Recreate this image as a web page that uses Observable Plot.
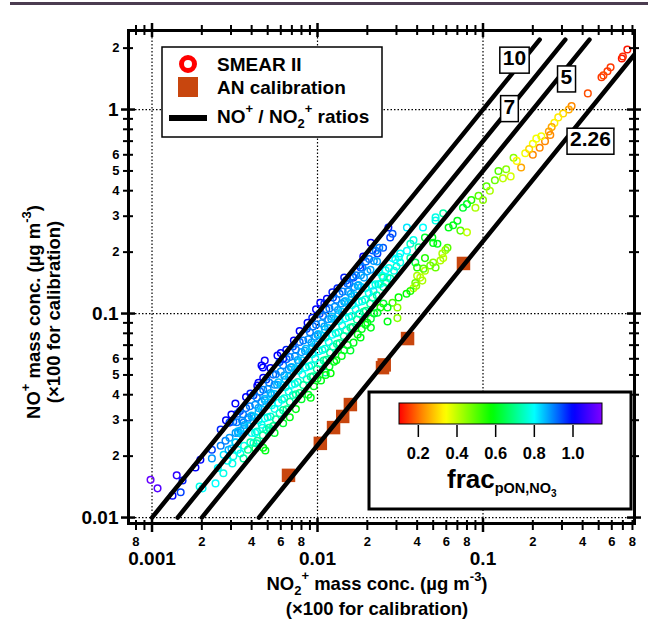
<!DOCTYPE html>
<html><head><meta charset="utf-8">
<script src="https://cdn.jsdelivr.net/npm/d3@7"></script>
<script src="https://cdn.jsdelivr.net/npm/@observablehq/plot@0.6"></script>
<style>
html,body{margin:0;padding:0;background:#fff;overflow:hidden;}
#wrap{position:relative;width:648px;height:621px;}
#topbar{position:absolute;left:10px;top:2px;width:638px;height:3px;background:#4b3c50;z-index:2;}
#wrap svg{font-family:"Liberation Sans",Arial,sans-serif;font-weight:bold;}
</style></head><body><div id="wrap"><div id="topbar"></div></div>
<script>
// ---------- SMEAR II points: NO2+ (x), NO+ (y), frac_pON,NO3 (colour) ----------
const smearX = [
  0.00098, 0.00108, 0.00133, 0.00141, 0.00153, 0.00149, 0.00183, 0.00196, 0.00202, 0.00242, 0.00194,
  0.00260, 0.00278, 0.00294, 0.00319, 0.00302, 0.00271, 0.00286, 0.00306, 0.00342, 0.00357, 0.00393, 0.00421, 0.00470,
  0.00484, 0.00433, 0.00342, 0.00357, 0.00382, 0.00328, 0.00319, 0.00302, 0.00294, 0.00393, 0.00433, 0.00517, 0.00465,
  0.00440, 0.00470, 0.00468, 0.00480, 0.00459, 0.00573, 0.00648, 0.00720, 0.00871, 0.00930, 0.0104, 0.0114,
  0.0123, 0.0132, 0.0189, 0.0210, 0.0230, 0.0249, 0.0268, 0.0275, 0.0284, 0.0182, 0.0165, 0.0152,
  0.0031, 0.0032, 0.0034, 0.0035, 0.0033, 0.0037, 0.0038, 0.0036, 0.0041, 0.0042, 0.0040,
  0.0045, 0.0046, 0.0044, 0.0049, 0.0050, 0.0048, 0.0054, 0.0055, 0.0053, 0.0059, 0.0060, 0.0058,
  0.0065, 0.0067, 0.0064, 0.0071, 0.0073, 0.0070, 0.0078, 0.0080, 0.0077, 0.0086, 0.0088, 0.0085,
  0.0094, 0.0097, 0.0093, 0.0103, 0.0106, 0.0101, 0.0113, 0.0116, 0.0111, 0.0124, 0.0127, 0.0122,
  0.0136, 0.0140, 0.0134, 0.0149, 0.0153, 0.0147, 0.0163, 0.0167, 0.0161, 0.0179, 0.0183, 0.0177,
  0.0196, 0.0200, 0.0215, 0.0219, 0.0236,
  0.0040, 0.0041, 0.0044, 0.0043, 0.0048, 0.0049, 0.0053, 0.0052, 0.0054, 0.0058, 0.0059,
  0.0064, 0.0063, 0.0065, 0.0070, 0.0071, 0.0077, 0.0076, 0.0078, 0.0085, 0.0086, 0.0093, 0.0092,
  0.0094, 0.0102, 0.0103, 0.0112, 0.0111, 0.0113, 0.0123, 0.0124, 0.0135, 0.0134, 0.0136, 0.0148,
  0.0149, 0.0162, 0.0161, 0.0163, 0.0178, 0.0179, 0.0195, 0.0194, 0.0196, 0.0214, 0.0215, 0.0235,
  0.0234, 0.0258, 0.0259, 0.0283, 0.0310, 0.0300,
  0.0347, 0.0434, 0.0517, 0.0517, 0.0575, 0.0380, 0.0408, 0.0347, 0.0316, 0.0364,
  0.0390, 0.0316, 0.0295, 0.0290, 0.0265, 0.0240, 0.0218, 0.0364, 0.0249, 0.0530,
  0.0446, 0.0494, 0.0500, 0.0620, 0.0660, 0.0700, 0.0757, 0.0800, 0.0400, 0.0446,
  0.0730, 0.0800, 0.0610, 0.0593, 0.0568, 0.0575, 0.0553, 0.0517, 0.0500, 0.0480, 0.0446, 0.0437,
  0.0418, 0.0430, 0.0400, 0.0390, 0.0380, 0.0395, 0.0364, 0.0345, 0.0309, 0.0284, 0.0304, 0.0304,
  0.0265, 0.0250, 0.0240, 0.0265, 0.0230, 0.0210, 0.0210, 0.0182, 0.0200, 0.0158, 0.0112, 0.0091,
  0.0055, 0.0068, 0.0080, 0.0095, 0.0105, 0.0118, 0.0130, 0.0145, 0.0165, 0.0185, 0.0120, 0.0140,
  0.0850, 0.0940, 0.1000, 0.0900, 0.1050, 0.1100, 0.1180, 0.1240, 0.1380, 0.1530, 0.1470, 0.1320,
  0.745, 0.690, 0.700, 0.590, 0.565, 0.534, 0.520, 0.430, 0.343, 0.330, 0.305, 0.285, 0.270,
  0.260, 0.250, 0.255, 0.237, 0.225, 0.220, 0.210, 0.200, 0.180, 0.200, 0.170, 0.190, 0.160
];
const smearY = [
  0.0153, 0.0139, 0.0128, 0.0161, 0.0152, 0.0133, 0.0176, 0.0192, 0.0139, 0.0147, 0.0142,
  0.0225, 0.0238, 0.0246, 0.0233, 0.0218, 0.0203, 0.0190, 0.0184, 0.0206, 0.0195, 0.0234, 0.0218, 0.0220,
  0.0213, 0.0238, 0.0267, 0.0292, 0.0309, 0.0323, 0.0362, 0.0320, 0.0292, 0.0405, 0.0443, 0.0267, 0.0275,
  0.0458, 0.0484, 0.0544, 0.0588, 0.0556, 0.0623, 0.0665, 0.0737, 0.0901, 0.0953, 0.113, 0.118,
  0.127, 0.133, 0.190, 0.222, 0.197, 0.210, 0.264, 0.236, 0.246, 0.168, 0.150, 0.140,
  0.0295, 0.0260, 0.0333, 0.0299, 0.0265, 0.0344, 0.0303, 0.0274, 0.0398, 0.0357, 0.0316,
  0.0414, 0.0369, 0.0329, 0.0475, 0.0426, 0.0382, 0.0502, 0.0448, 0.0400, 0.0578, 0.0519, 0.0460,
  0.0598, 0.0533, 0.0475, 0.0689, 0.0618, 0.0547, 0.0725, 0.0647, 0.0577, 0.0843, 0.0748, 0.0671,
  0.0865, 0.0771, 0.0686, 0.0999, 0.0896, 0.0793, 0.105, 0.0938, 0.0836, 0.120, 0.108, 0.0967,
  0.125, 0.112, 0.0993, 0.145, 0.128, 0.115, 0.152, 0.135, 0.121, 0.172, 0.154, 0.138,
  0.180, 0.161, 0.204, 0.181, 0.210,
  0.0260, 0.0232, 0.0299, 0.0264, 0.0307, 0.0269, 0.0355, 0.0313, 0.0281, 0.0365, 0.0325,
  0.0435, 0.0384, 0.0339, 0.0448, 0.0399, 0.0524, 0.0462, 0.0408, 0.0544, 0.0476, 0.0632, 0.0558,
  0.0493, 0.0653, 0.0571, 0.0762, 0.0672, 0.0594, 0.0787, 0.0689, 0.0918, 0.0810, 0.0716, 0.0947,
  0.0829, 0.110, 0.0972, 0.0859, 0.114, 0.0997, 0.133, 0.117, 0.103, 0.137, 0.120, 0.160,
  0.139, 0.163, 0.142, 0.187, 0.189, 0.170,
  0.264, 0.264, 0.296, 0.286, 0.310, 0.229, 0.211, 0.203, 0.197, 0.187,
  0.178, 0.178, 0.184, 0.162, 0.150, 0.140, 0.129, 0.220, 0.150, 0.220,
  0.236, 0.236, 0.222, 0.264, 0.271, 0.285, 0.330, 0.344, 0.168, 0.187,
  0.255, 0.250, 0.210, 0.205, 0.197, 0.187, 0.182, 0.168, 0.178, 0.172, 0.162, 0.166,
  0.150, 0.145, 0.153, 0.141, 0.133, 0.137, 0.129, 0.125, 0.120, 0.113, 0.107, 0.095,
  0.107, 0.112, 0.107, 0.0914, 0.101, 0.0944, 0.0853, 0.0763, 0.0900, 0.0659, 0.0514, 0.0387,
  0.0260, 0.0310, 0.0380, 0.0440, 0.0470, 0.0550, 0.0590, 0.0660, 0.0720, 0.0840, 0.0510, 0.0620,
  0.360, 0.378, 0.360, 0.330, 0.420, 0.400, 0.450, 0.500, 0.510, 0.580, 0.470, 0.460,
  1.97, 1.78, 1.82, 1.61, 1.54, 1.47, 1.44, 1.20, 1.04, 1.00, 0.956, 0.915, 0.860,
  0.820, 0.780, 0.750, 0.700, 0.740, 0.650, 0.720, 0.680, 0.610, 0.600, 0.520, 0.640, 0.560
];
const smearFrac = [
  1.12, 1.10, 1.0, 1.05, 0.98, 0.95, 1.0, 1.0, 0.8, 0.8, 0.78,
  0.9, 0.9, 0.88, 0.82, 0.85, 0.82, 0.8, 0.78, 0.78, 0.72, 0.72, 0.65, 0.6,
  0.6, 0.72, 0.88, 0.9, 0.9, 0.92, 1.0, 1.0, 0.95, 0.98, 1.0, 0.75, 0.78,
  1.0, 1.0, 1.0, 1.02, 1.0, 1.0, 0.98, 1.0, 1.0, 0.98, 1.0, 1.0,
  0.98, 0.97, 1.0, 1.0, 0.95, 0.93, 0.98, 0.95, 0.93, 0.95, 0.95, 0.93,
  0.93, 0.88, 0.95, 0.88, 0.85, 0.92, 0.88, 0.85, 0.95, 0.88, 0.85,
  0.92, 0.88, 0.85, 0.95, 0.88, 0.85, 0.92, 0.88, 0.85, 0.95, 0.88, 0.85,
  0.92, 0.88, 0.85, 0.95, 0.88, 0.85, 0.92, 0.88, 0.85, 0.95, 0.88, 0.85,
  0.92, 0.88, 0.85, 0.95, 0.88, 0.85, 0.92, 0.88, 0.85, 0.95, 0.88, 0.85,
  0.92, 0.88, 0.85, 0.95, 0.88, 0.85, 0.92, 0.88, 0.85, 0.95, 0.88, 0.85,
  0.92, 0.88, 0.95, 0.88, 0.9,
  0.8, 0.76, 0.8, 0.76, 0.8, 0.74, 0.8, 0.76, 0.7, 0.8, 0.74,
  0.8, 0.76, 0.7, 0.8, 0.74, 0.8, 0.76, 0.7, 0.8, 0.74, 0.8, 0.76,
  0.7, 0.8, 0.74, 0.8, 0.76, 0.7, 0.8, 0.74, 0.8, 0.76, 0.7, 0.8,
  0.74, 0.8, 0.76, 0.7, 0.8, 0.74, 0.8, 0.76, 0.7, 0.8, 0.74, 0.8,
  0.76, 0.8, 0.72, 0.8, 0.78, 0.76,
  0.82, 0.8, 0.78, 0.78, 0.72, 0.78, 0.7, 0.8, 0.8, 0.72,
  0.65, 0.78, 0.8, 0.78, 0.8, 0.8, 0.82, 0.75, 0.7, 0.6,
  0.62, 0.6, 0.6, 0.6, 0.6, 0.6, 0.62, 0.62, 0.55, 0.55,
  0.5, 0.4, 0.5, 0.45, 0.42, 0.4, 0.42, 0.48, 0.45, 0.48, 0.42, 0.5,
  0.4, 0.42, 0.42, 0.48, 0.4, 0.45, 0.55, 0.58, 0.58, 0.52, 0.45, 0.45,
  0.6, 0.62, 0.55, 0.6, 0.62, 0.62, 0.6, 0.6, 0.6, 0.62, 0.72, 0.6,
  0.62, 0.6, 0.62, 0.6, 0.6, 0.62, 0.6, 0.62, 0.6, 0.6, 0.58, 0.6,
  0.55, 0.5, 0.45, 0.42, 0.5, 0.42, 0.48, 0.5, 0.45, 0.45, 0.38, 0.4,
  0.12, 0.12, 0.14, 0.15, 0.15, 0.17, 0.15, 0.17, 0.22, 0.25, 0.3, 0.32, 0.33,
  0.25, 0.25, 0.22, 0.22, 0.35, 0.22, 0.35, 0.35, 0.35, 0.22, 0.25, 0.3, 0.33
];
// dense core of the SMEAR II cloud (between the 10 and 5 ratio lines) and extra edge points
const coreX = [
  0.00325, 0.00331, 0.00320, 0.00355, 0.00362, 0.00349, 0.0039, 0.0040, 0.00383, 0.0043, 0.0044, 0.00422,
  0.0047, 0.0048, 0.00462, 0.0051, 0.0052, 0.0050, 0.0056, 0.0057, 0.0055, 0.0062, 0.0063, 0.0061,
  0.0068, 0.0069, 0.0067, 0.0074, 0.0076, 0.0073, 0.0082, 0.0084, 0.0081, 0.0090, 0.0092, 0.0089,
  0.0098, 0.0100, 0.0097, 0.0108, 0.0110, 0.0106, 0.0118, 0.0121, 0.0116, 0.0130, 0.0133, 0.0128,
  0.0142, 0.0145, 0.0140, 0.0156, 0.0159, 0.0153, 0.0171, 0.0175, 0.0168, 0.0187, 0.0191, 0.0184,
  0.0205, 0.0209, 0.0225, 0.0229,
  0.0042, 0.00428, 0.0046, 0.00468, 0.0050, 0.0051, 0.0055, 0.0056, 0.0061, 0.0062, 0.0067, 0.0068,
  0.0073, 0.0074, 0.0081, 0.0082, 0.0089, 0.0091, 0.0097, 0.0099, 0.0107, 0.0109, 0.0117, 0.0119,
  0.0129, 0.0131, 0.0141, 0.0144, 0.0155, 0.0158, 0.0170, 0.0173, 0.0186, 0.0190, 0.0204, 0.0208,
  0.0224, 0.0228, 0.0246, 0.0250, 0.0270, 0.0275,
  0.0052, 0.0060, 0.0078, 0.0098, 0.0062, 0.0110, 0.0145, 0.0037, 0.0026, 0.0023, 0.0028,
  0.0025, 0.0027, 0.0023, 0.0029, 0.0033, 0.0036, 0.0038, 0.0031,
  0.0062, 0.0074, 0.0088, 0.0100, 0.0112, 0.0126, 0.0152, 0.0175, 0.0195, 0.0220
];
const coreY = [
  0.0293, 0.0260, 0.0234, 0.0320, 0.0284, 0.0256, 0.0351, 0.0312, 0.0281, 0.0387, 0.0344, 0.0310,
  0.0423, 0.0376, 0.0338, 0.0459, 0.0408, 0.0367, 0.0504, 0.0448, 0.0403, 0.0558, 0.0496, 0.0446,
  0.0612, 0.0544, 0.0490, 0.0666, 0.0592, 0.0533, 0.0738, 0.0656, 0.0590, 0.0810, 0.0720, 0.0648,
  0.0882, 0.0784, 0.0706, 0.0972, 0.0864, 0.0778, 0.106, 0.0944, 0.0850, 0.117, 0.104, 0.0936,
  0.128, 0.114, 0.102, 0.140, 0.125, 0.112, 0.154, 0.137, 0.123, 0.168, 0.150, 0.135,
  0.185, 0.164, 0.203, 0.180,
  0.0260, 0.0231, 0.0285, 0.0253, 0.0310, 0.0275, 0.0341, 0.0303, 0.0378, 0.0336, 0.0415, 0.0369,
  0.0453, 0.0402, 0.0502, 0.0446, 0.0552, 0.0490, 0.0601, 0.0534, 0.0663, 0.0589, 0.0725, 0.0644,
  0.0800, 0.0710, 0.0874, 0.0776, 0.0961, 0.0853, 0.105, 0.0935, 0.115, 0.102, 0.126, 0.112,
  0.139, 0.123, 0.153, 0.135, 0.167, 0.149,
  0.0540, 0.0640, 0.0820, 0.105, 0.0600, 0.112, 0.150, 0.0390, 0.0270, 0.0215, 0.0300,
  0.0175, 0.0165, 0.0195, 0.0215, 0.0215, 0.0225, 0.0215, 0.0200,
  0.0290, 0.0340, 0.0400, 0.0480, 0.0500, 0.0580, 0.0700, 0.0790, 0.0880, 0.100
];
const coreFrac = [
  0.9, 0.87, 0.84, 0.9, 0.87, 0.84, 0.9, 0.87, 0.84, 0.9, 0.87, 0.84,
  0.9, 0.87, 0.84, 0.9, 0.87, 0.84, 0.9, 0.87, 0.84, 0.9, 0.87, 0.84,
  0.9, 0.87, 0.84, 0.9, 0.87, 0.84, 0.9, 0.87, 0.84, 0.9, 0.87, 0.84,
  0.9, 0.87, 0.84, 0.9, 0.87, 0.84, 0.9, 0.87, 0.84, 0.9, 0.87, 0.84,
  0.9, 0.87, 0.84, 0.9, 0.87, 0.84, 0.9, 0.87, 0.84, 0.9, 0.87, 0.84,
  0.9, 0.87, 0.9, 0.87,
  0.78, 0.72, 0.78, 0.72, 0.78, 0.72, 0.78, 0.72, 0.78, 0.72, 0.78, 0.72,
  0.78, 0.72, 0.78, 0.72, 0.78, 0.72, 0.78, 0.72, 0.78, 0.72, 0.78, 0.72,
  0.78, 0.72, 0.78, 0.72, 0.78, 0.72, 0.78, 0.72, 0.78, 0.72, 0.78, 0.72,
  0.78, 0.72, 0.78, 0.72, 0.78, 0.72,
  1.0, 1.0, 1.0, 1.0, 0.98, 0.97, 0.98, 1.0, 0.97, 0.95, 1.0,
  0.8, 0.78, 0.88, 0.86, 0.8, 0.78, 0.7, 0.78,
  0.62, 0.6, 0.62, 0.62, 0.6, 0.6, 0.62, 0.6, 0.6, 0.62
];
// ---------- AN calibration points ----------
const calX = [0.00668, 0.0104, 0.0125, 0.0142, 0.0158, 0.0247, 0.0253, 0.0350, 0.0762];
const calY = [0.0161, 0.0231, 0.0276, 0.0313, 0.0358, 0.0543, 0.0560, 0.0754, 0.176];
// ---------- NO+/NO2+ ratio lines ----------
const ratioValues = [10, 7, 5, 2.26];
const ratioLineYRange = [0.01, 2.2];
const ratioLabelText = ["10", "7", "5", "2.26"];
const ratioLabelX = [0.155, 0.1445, 0.319, 0.446];
const ratioLabelY = [1.78, 1.03, 1.44, 0.713];
// ---------- axes ----------
const xDomain = [0.000721, 0.823];
const yDomain = [0.00935, 2.44];
const xMajorTicks = [0.001, 0.01, 0.1];
const xMinorTicks = [0.0008, 0.0009, 0.002, 0.003, 0.004, 0.005, 0.006, 0.007, 0.008, 0.009,
  0.02, 0.03, 0.04, 0.05, 0.06, 0.07, 0.08, 0.09, 0.2, 0.3, 0.4, 0.5, 0.6, 0.7, 0.8];
const xMinorLabels = [0.0008, 0.002, 0.004, 0.006, 0.008, 0.02, 0.04, 0.06, 0.08, 0.2, 0.4, 0.6, 0.8];
const yMajorTicks = [0.01, 0.1, 1];
const yMinorTicks = [0.02, 0.03, 0.04, 0.05, 0.06, 0.07, 0.08, 0.09,
  0.2, 0.3, 0.4, 0.5, 0.6, 0.7, 0.8, 0.9, 2];
const yMinorLabels = [0.02, 0.03, 0.04, 0.05, 0.06, 0.2, 0.3, 0.4, 0.5, 0.6, 2];
// ---------- colour scale ----------
const colorStops = [0.1, 0.22, 0.34, 0.58, 0.8, 1.0, 1.15];
const colorHexes = ["#ff0000", "#ff8800", "#ffff00", "#00ff00", "#00ffff", "#0000ff", "#8000ff"];
const colorTicks = [0.2, 0.4, 0.6, 0.8, 1.0];
const colorBarDomain = [0.1, 1.15];
const calColor = "#c8460e";

const W = 648, H = 621, mL = 128, mR = 14, mT = 30, mB = 98;
const innerW = W - mL - mR, innerH = H - mT - mB;

const smearData = smearX.map((x, i) => ({x, y: smearY[i], f: smearFrac[i]}))
  .concat(coreX.map((x, i) => ({x, y: coreY[i], f: coreFrac[i]})));
const calData = calX.map((x, i) => ({x, y: calY[i]}));
const ratioLineData = ratioValues.flatMap(r => ratioLineYRange.map(y => ({r, x: y / r, y})));
const ratioLabelData = ratioLabelText.map((t, i) => ({t, x: ratioLabelX[i], y: ratioLabelY[i]}));
const firstDigit = d => String(Math.round(d / Math.pow(10, Math.floor(Math.log10(d) + 1e-9))));
const colorOpts = {type: "linear", domain: colorStops, range: colorHexes, interpolate: "rgb", clamp: true};

const chart = Plot.plot({
  width: W, height: H, marginLeft: mL, marginRight: mR, marginTop: mT, marginBottom: mB,
  style: {fontFamily: "Liberation Sans, Arial, sans-serif", fontWeight: "bold", background: "white"},
  x: {type: "log", domain: xDomain, axis: null},
  y: {type: "log", domain: yDomain, axis: null},
  color: colorOpts,
  marks: [
    Plot.ruleX(xMajorTicks, {x: d => d, stroke: "black", strokeWidth: 1.2, strokeDasharray: "1.5,2"}),
    Plot.ruleY(yMajorTicks, {y: d => d, stroke: "black", strokeWidth: 1.2, strokeDasharray: "1.5,2"}),
    Plot.dot(smearData, {x: "x", y: "y", stroke: "f", r: 3.3, strokeWidth: 1.5, fill: "none"}),
    Plot.dot(calData, {x: "x", y: "y", symbol: "square", r: 7.6, fill: calColor}),
    Plot.line(ratioLineData, {x: "x", y: "y", z: "r", stroke: "black", strokeWidth: 4.5, clip: true}),
    Plot.text(ratioLabelData, {x: "x", y: "y", text: "t", fontSize: 21, fontWeight: "bold", fill: "black"}),
    Plot.frame({stroke: "black", strokeWidth: 3}),
    Plot.tickX(xMajorTicks, {x: d => d, insetTop: innerH - 5, insetBottom: -9, strokeWidth: 2.5}),
    Plot.tickX(xMinorTicks, {x: d => d, insetTop: innerH - 3, insetBottom: -7, strokeWidth: 2}),
    Plot.tickX(xMajorTicks, {x: d => d, insetTop: -7, insetBottom: innerH - 7, strokeWidth: 2.5}),
    Plot.tickX(xMinorTicks, {x: d => d, insetTop: -5, insetBottom: innerH - 5, strokeWidth: 2}),
    Plot.tickY(yMajorTicks, {y: d => d, insetLeft: -7, insetRight: innerW - 7, strokeWidth: 2.5}),
    Plot.tickY(yMinorTicks, {y: d => d, insetLeft: -5, insetRight: innerW - 5, strokeWidth: 2}),
    Plot.tickY(yMajorTicks, {y: d => d, insetLeft: innerW - 7, insetRight: -7, strokeWidth: 2.5}),
    Plot.tickY(yMinorTicks, {y: d => d, insetLeft: innerW - 5, insetRight: -5, strokeWidth: 2}),
    Plot.text(xMajorTicks, {x: d => d, text: d => String(d), frameAnchor: "bottom", lineAnchor: "top", dy: 28, fontSize: 19, fontWeight: "bold"}),
    Plot.text(xMinorLabels, {x: d => d, text: firstDigit, frameAnchor: "bottom", lineAnchor: "top", dy: 13, fontSize: 13, fontWeight: "bold"}),
    Plot.text(yMajorTicks, {y: d => d, text: d => String(d), frameAnchor: "left", textAnchor: "end", dx: -10, fontSize: 19, fontWeight: "bold"}),
    Plot.text(yMinorLabels, {y: d => d, text: firstDigit, frameAnchor: "left", textAnchor: "end", dx: -9, fontSize: 13, fontWeight: "bold"})
  ]
});
document.getElementById("wrap").appendChild(chart);
const svg = d3.select(chart);

// white boxes behind the ratio labels (first text mark)
svg.select('g[aria-label="text"]').selectAll("text").each(function () {
  const b = this.getBBox();
  const r = d3.select(this.parentNode).insert("rect", () => this)
    .attr("x", b.x - 3).attr("y", b.y + 1).attr("width", b.width + 6).attr("height", b.height + 3)
    .attr("fill", "white").attr("stroke", "black").attr("stroke-width", 1.5);
  const tr = this.getAttribute("transform");
  if (tr) r.attr("transform", tr);
});

// symbol legend
const lg = svg.append("g").attr("font-size", 19).attr("font-weight", "bold").attr("text-anchor", "start");
lg.append("rect").attr("x", 162).attr("y", 47).attr("width", 220).attr("height", 90)
  .attr("fill", "white").attr("stroke", "black").attr("stroke-width", 1.5);
lg.append("circle").attr("cx", 188).attr("cy", 64).attr("r", 6.5).attr("fill", "white")
  .attr("stroke", "#ff0000").attr("stroke-width", 5);
lg.append("text").attr("x", 217).attr("y", 71).text("SMEAR II");
lg.append("rect").attr("x", 178).attr("y", 77).attr("width", 20).attr("height", 20).attr("fill", calColor);
lg.append("text").attr("x", 217).attr("y", 94).text("AN calibration");
lg.append("line").attr("x1", 169).attr("x2", 207).attr("y1", 118).attr("y2", 118)
  .attr("stroke", "black").attr("stroke-width", 6);
const t3 = lg.append("text").attr("x", 217).attr("y", 123);
t3.append("tspan").text("NO");
t3.append("tspan").attr("font-size", 13).attr("dy", -10).text("+");
t3.append("tspan").attr("dy", 10).text(" / NO");
t3.append("tspan").attr("font-size", 13).attr("dy", 5).text("2");
t3.append("tspan").attr("font-size", 13).attr("dy", -15).text("+");
t3.append("tspan").attr("dy", 10).text(" ratios");

// colour bar legend
let cfun;
try { const s = Plot.scale({color: colorOpts}); cfun = v => s.apply(v); }
catch (e) { const s = d3.scaleLinear(colorStops, colorHexes).clamp(true); cfun = v => s(v); }
const defs = svg.append("defs");
const grad = defs.append("linearGradient").attr("id", "cbgrad");
for (let i = 0; i <= 60; i++) {
  const v = colorBarDomain[0] + (colorBarDomain[1] - colorBarDomain[0]) * i / 60;
  grad.append("stop").attr("offset", i / 60).attr("stop-color", cfun(v));
}
const cb = svg.append("g").attr("font-weight", "bold");
cb.append("rect").attr("x", 369).attr("y", 392).attr("width", 262).attr("height", 117)
  .attr("fill", "white").attr("stroke", "black").attr("stroke-width", 3);
cb.append("rect").attr("x", 399).attr("y", 403).attr("width", 203).attr("height", 21)
  .attr("fill", "url(#cbgrad)").attr("stroke", "black").attr("stroke-width", 1);
const cbx = d3.scaleLinear().domain(colorBarDomain).range([399, 602]);
colorTicks.forEach(v => {
  cb.append("line").attr("x1", cbx(v)).attr("x2", cbx(v)).attr("y1", 425).attr("y2", 437)
    .attr("stroke", "black").attr("stroke-width", 1.5);
  cb.append("text").attr("x", cbx(v)).attr("y", 459).attr("text-anchor", "middle")
    .attr("font-size", 16.5).text(v.toFixed(1));
});
const ct = cb.append("text").attr("x", 447).attr("y", 488).attr("font-size", 26).attr("text-anchor", "start");
ct.append("tspan").text("frac");
ct.append("tspan").attr("font-size", 14.5).attr("dy", 5).text("pON,NO");
ct.append("tspan").attr("font-size", 10).attr("dy", 4).text("3");

// axis titles
const xt = svg.append("text").attr("x", 377).attr("y", 590).attr("text-anchor", "middle").attr("font-size", 18.5);
xt.append("tspan").text("NO");
xt.append("tspan").attr("font-size", 13).attr("dy", 5).text("2");
xt.append("tspan").attr("font-size", 13).attr("dy", -15).text("+");
xt.append("tspan").attr("dy", 10).text(" mass conc. (µg m");
xt.append("tspan").attr("font-size", 13).attr("dy", -9).text("-3");
xt.append("tspan").attr("dy", 9).text(")");
svg.append("text").attr("x", 377).attr("y", 615).attr("text-anchor", "middle").attr("font-size", 18.5)
  .text("(×100 for calibration)");
const yt = svg.append("text").attr("transform", "translate(40,312) rotate(-90)").attr("text-anchor", "middle").attr("font-size", 18.5);
yt.append("tspan").text("NO");
yt.append("tspan").attr("font-size", 13).attr("dy", -10).text("+");
yt.append("tspan").attr("dy", 10).text(" mass conc. (µg m");
yt.append("tspan").attr("font-size", 13).attr("dy", -9).text("-3");
yt.append("tspan").attr("dy", 9).text(")");
svg.append("text").attr("transform", "translate(60,312) rotate(-90)").attr("text-anchor", "middle").attr("font-size", 18.5)
  .text("(×100 for calibration)");
</script></body></html>
